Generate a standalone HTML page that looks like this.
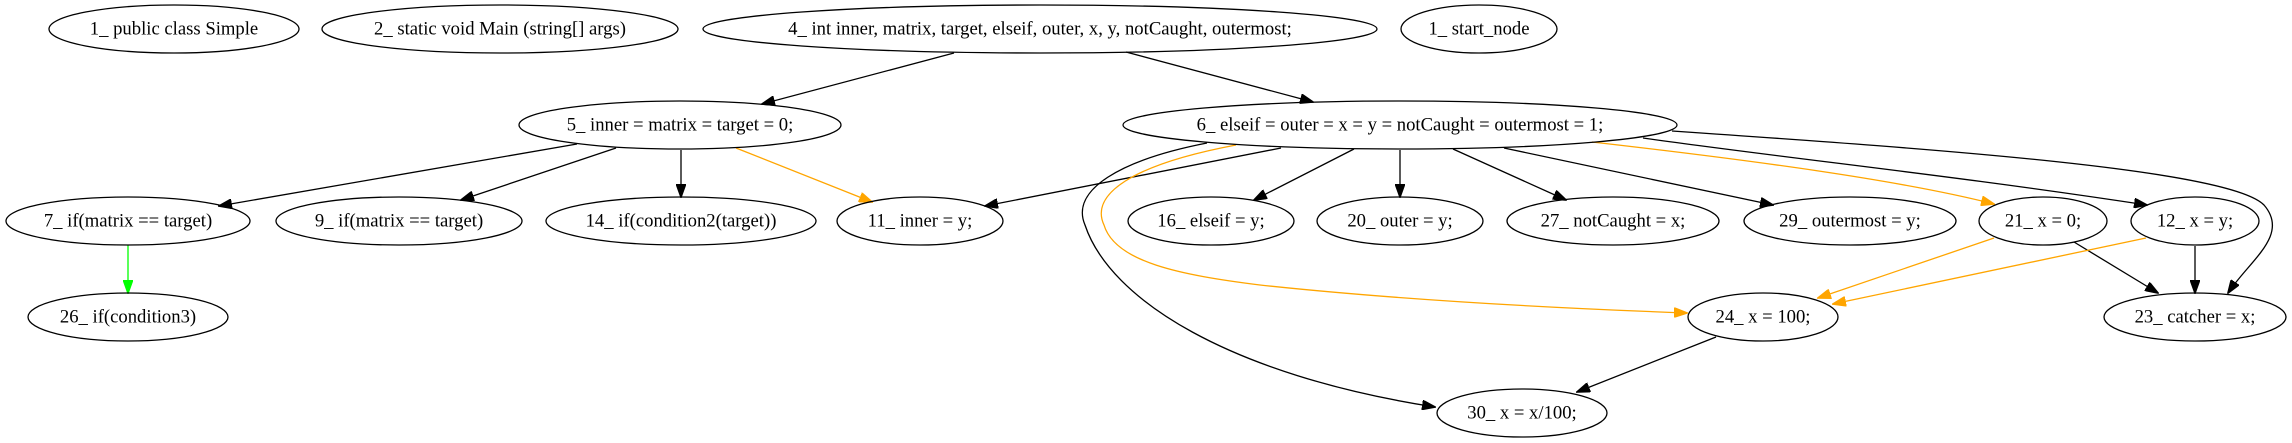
<!DOCTYPE html>
<html><head><meta charset="utf-8"><style>
html,body{margin:0;padding:0;background:#fff;}
svg{display:block;}
text{font-family:"Liberation Serif",serif;font-size:18.67px;text-anchor:middle;dominant-baseline:central;}
ellipse{fill:none;stroke:#000;stroke-width:1.3;}
path{fill:none;stroke-width:1.3;}
</style></head><body>
<svg width="2292" height="443" viewBox="0 0 2292 443" xmlns="http://www.w3.org/2000/svg">
<defs>
<marker id="ab" markerWidth="14" markerHeight="10" refX="13" refY="5" orient="auto" markerUnits="userSpaceOnUse"><polygon points="0,0 14,5 0,10" fill="#000" stroke="#000" stroke-width="1"/></marker>
<marker id="ao" markerWidth="14" markerHeight="10" refX="13" refY="5" orient="auto" markerUnits="userSpaceOnUse"><polygon points="0,0 14,5 0,10" fill="orange" stroke="orange" stroke-width="1"/></marker>
<marker id="ag" markerWidth="14" markerHeight="10" refX="13" refY="5" orient="auto" markerUnits="userSpaceOnUse"><polygon points="0,0 14,5 0,10" fill="#0f0" stroke="#0f0" stroke-width="1"/></marker>
</defs>
<g stroke="#000">
<path d="M954,53 L762,104" marker-end="url(#ab)"/>
<path d="M1126,52 L1313,102" marker-end="url(#ab)"/>
<path d="M577,144 L219,206" marker-end="url(#ab)"/>
<path d="M616,148 L461,200" marker-end="url(#ab)"/>
<path d="M681,150 L681,197" marker-end="url(#ab)"/>
<path d="M1281,148 L985,206" marker-end="url(#ab)"/>
<path d="M1354,149 L1254,200" marker-end="url(#ab)"/>
<path d="M1400,150 L1400,197" marker-end="url(#ab)"/>
<path d="M1453,149 L1566,200" marker-end="url(#ab)"/>
<path d="M1504,148 L1773,205" marker-end="url(#ab)"/>
<path d="M1643,138 C1800,160 1950,175 2147,205" marker-end="url(#ab)"/>
<path d="M1672,131 C1950,150 2230,170 2264,205 C2290,235 2250,260 2228,293" marker-end="url(#ab)"/>
<path d="M1207,143 C1120,160 1070,190 1085,225 C1110,300 1230,375 1435,407" marker-end="url(#ab)"/>
<path d="M2074,242 L2158,293" marker-end="url(#ab)"/>
<path d="M2195,246 L2195,293" marker-end="url(#ab)"/>
<path d="M1716,337 L1577,392" marker-end="url(#ab)"/>
</g>
<g stroke="orange">
<path d="M736,148 L872,202" marker-end="url(#ao)"/>
<path d="M1592,142 C1750,160 1900,180 1994,204" marker-end="url(#ao)"/>
<path d="M1236,145 C1130,165 1090,195 1104,225 C1115,262 1180,275 1260,285 C1400,300 1550,308 1687,313" marker-end="url(#ao)"/>
<path d="M1994,238 L1818,298" marker-end="url(#ao)"/>
<path d="M2146,238 L1833,304" marker-end="url(#ao)"/>
</g>
<path d="M128,245 L128,293" stroke="#0f0" marker-end="url(#ag)"/>

<ellipse cx="174" cy="29" rx="125" ry="24"/><text x="174" y="29">1_ public class Simple</text>
<ellipse cx="500" cy="29" rx="178" ry="24"/><text x="500" y="29">2_  static void Main (string[] args)</text>
<ellipse cx="1040" cy="29" rx="337" ry="24"/><text x="1040" y="29">4_  int inner, matrix, target, elseif, outer, x, y, notCaught, outermost;</text>
<ellipse cx="1479" cy="29" rx="78" ry="24"/><text x="1479" y="29">1_ start_node</text>
<ellipse cx="680" cy="125" rx="161" ry="24"/><text x="680" y="125">5_  inner = matrix = target = 0;</text>
<ellipse cx="1400" cy="125" rx="277" ry="24"/><text x="1400" y="125">6_  elseif = outer = x = y = notCaught = outermost = 1;</text>
<ellipse cx="128" cy="221" rx="122" ry="24"/><text x="128" y="221">7_ if(matrix == target)</text>
<ellipse cx="399" cy="221" rx="123" ry="24"/><text x="399" y="221">9_  if(matrix == target)</text>
<ellipse cx="681" cy="221" rx="135" ry="24"/><text x="681" y="221">14_  if(condition2(target))</text>
<ellipse cx="920" cy="221" rx="83" ry="24"/><text x="920" y="221">11_  inner = y;</text>
<ellipse cx="1211" cy="221" rx="83" ry="24"/><text x="1211" y="221">16_ elseif = y;</text>
<ellipse cx="1400" cy="221" rx="83" ry="24"/><text x="1400" y="221">20_  outer = y;</text>
<ellipse cx="1613" cy="221" rx="106" ry="24"/><text x="1613" y="221">27_  notCaught = x;</text>
<ellipse cx="1850" cy="221" rx="106" ry="24"/><text x="1850" y="221">29_  outermost = y;</text>
<ellipse cx="2043" cy="221" rx="64" ry="24"/><text x="2043" y="221">21_  x = 0;</text>
<ellipse cx="2195" cy="221" rx="64" ry="24"/><text x="2195" y="221">12_  x = y;</text>
<ellipse cx="128" cy="317" rx="100" ry="24"/><text x="128" y="317">26_  if(condition3)</text>
<ellipse cx="1763" cy="317" rx="75" ry="24"/><text x="1763" y="317">24_  x = 100;</text>
<ellipse cx="2195" cy="317" rx="91" ry="24"/><text x="2195" y="317">23_  catcher = x;</text>
<ellipse cx="1522" cy="413" rx="85" ry="24"/><text x="1522" y="413">30_  x = x/100;</text>
</svg>
</body></html>
